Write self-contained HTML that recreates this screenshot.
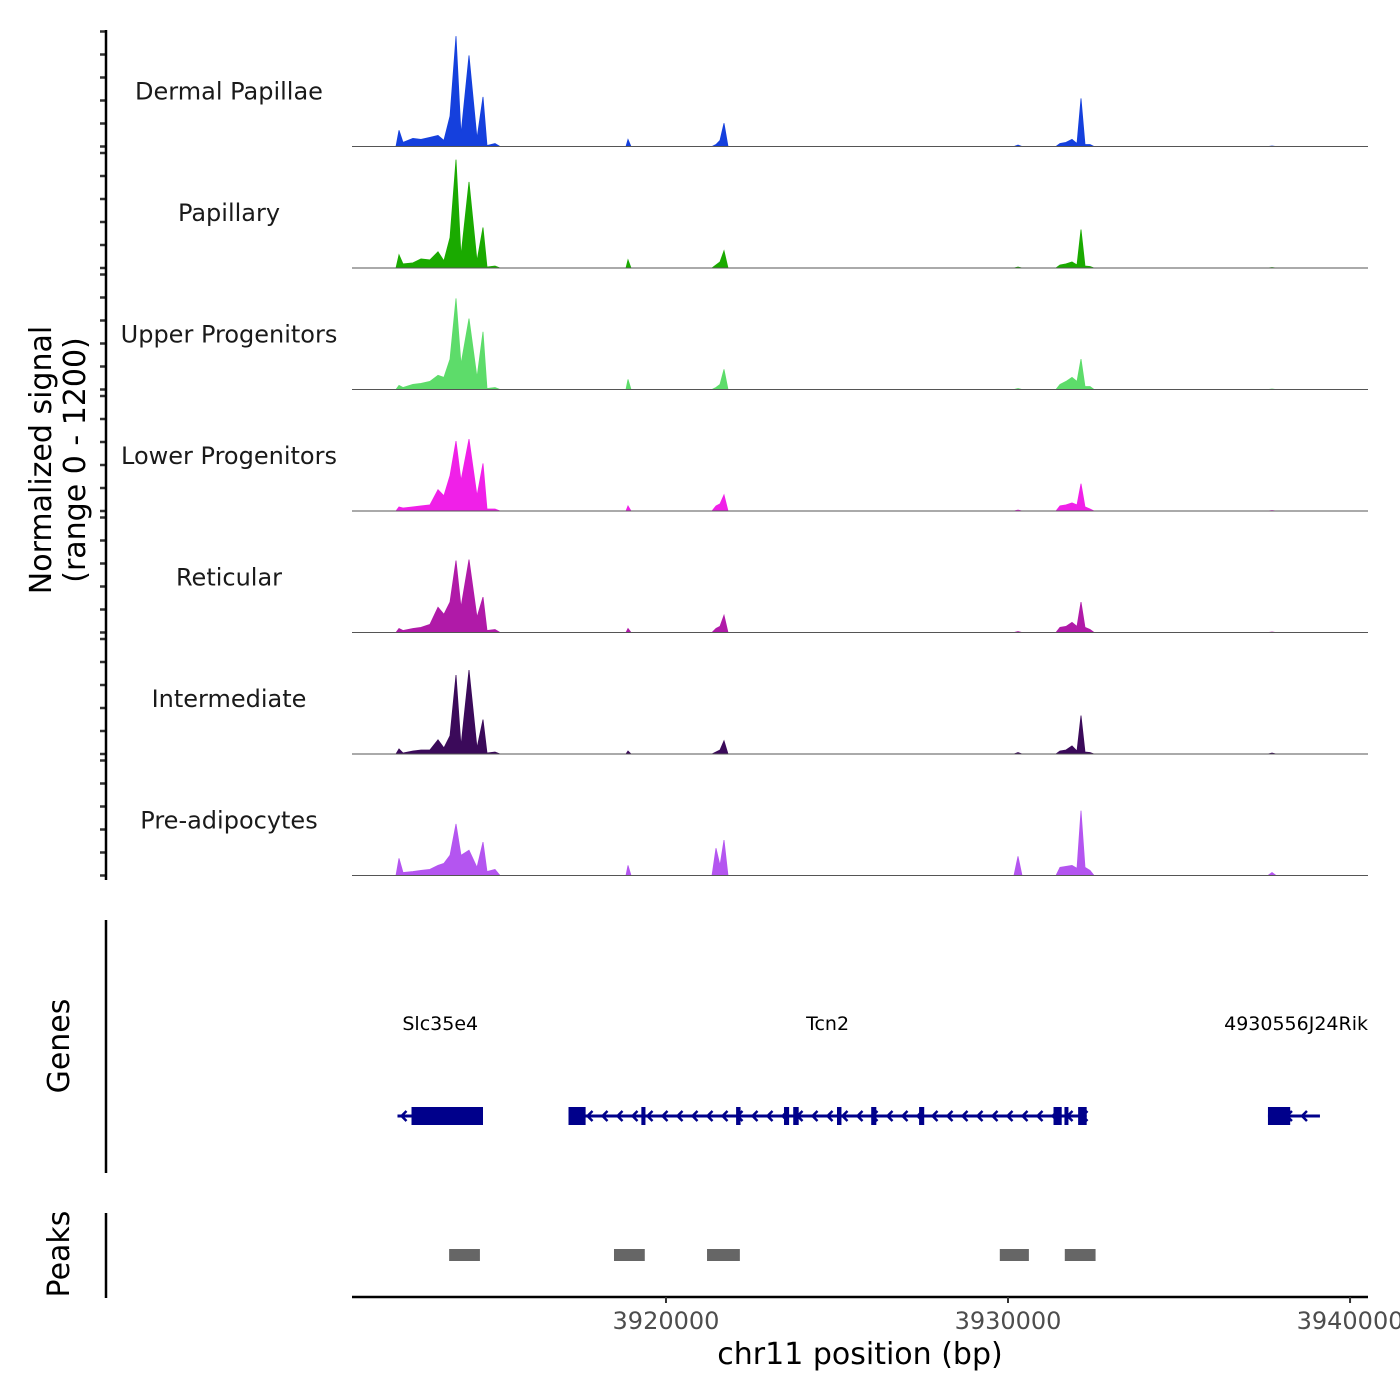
<!DOCTYPE html>
<html><head><meta charset="utf-8"><style>
body{margin:0;background:#fff}
svg{display:block;font-family:"DejaVu Sans","Liberation Sans",sans-serif}
</style></head><body>
<svg id="chart" width="1400" height="1400" viewBox="0 0 1400 1400" xmlns="http://www.w3.org/2000/svg">
<g id="tracks"></g>
<g id="genes"></g>
<g id="peaks"></g>
<g id="axes"></g>
<text transform="translate(51,460) rotate(-90)" text-anchor="middle" font-size="30">Normalized signal</text>
<text transform="translate(85,460) rotate(-90)" text-anchor="middle" font-size="30">(range 0 - 1200)</text>
<text transform="translate(69,1046) rotate(-90)" text-anchor="middle" font-size="30">Genes</text>
<text transform="translate(69,1254) rotate(-90)" text-anchor="middle" font-size="30">Peaks</text>
<text x="860" y="1364" text-anchor="middle" font-size="30">chr11 position (bp)</text>
</svg>
<script>
const trackNames=["Dermal Papillae","Papillary","Upper Progenitors","Lower Progenitors","Reticular","Intermediate","Pre-adipocytes"];
const trackColors=["#1540dd","#1aaa00","#5ddc6a","#f020e8","#b01aa8","#3b0a5a","#b455f0"];
const positions=[3912105,3912193,3912310,3912602,3912836,3913099,3913333,3913508,3913684,3913860,3914006,3914240,3914474,3914649,3914766,3915000,3915146,3918830,3918889,3918977,3921345,3921462,3921579,3921696,3921813,3930176,3930293,3930409,3931404,3931521,3931696,3931871,3932018,3932135,3932252,3932398,3932515,3937602,3937719,3937836];
const sigDP=[0,160,40,80,70,90,110,60,300,1090,120,900,80,490,10,30,0,0,70,0,0,20,60,230,0,0,15,0,0,30,40,70,30,475,20,20,0,0,5,0];
const sigPap=[0,130,40,50,90,80,160,70,300,1070,120,850,70,400,10,20,0,0,80,0,0,30,60,170,0,0,10,0,0,30,40,60,30,380,20,15,0,0,5,0];
const sigUP=[0,40,20,50,60,80,140,120,300,900,250,700,120,570,10,20,0,0,100,0,0,20,50,200,0,0,10,0,0,50,80,120,80,300,30,30,0,0,5,0];
const sigLP=[0,40,30,40,50,60,210,150,350,690,300,710,150,470,20,20,0,0,50,0,0,50,70,160,0,0,10,0,0,50,60,80,60,270,40,20,0,0,5,0];
const sigRet=[0,40,20,40,50,80,250,180,300,710,250,720,150,350,20,30,0,0,40,0,0,40,60,170,0,0,10,0,0,50,60,100,60,300,50,30,0,0,5,0];
const sigInt=[0,50,10,30,40,40,140,60,180,780,80,830,60,340,10,20,0,0,30,0,0,20,40,130,0,0,15,0,0,30,40,80,30,380,20,15,0,0,10,0];
const sigPre=[0,170,30,40,50,60,100,120,200,510,200,250,80,330,40,60,0,0,100,0,0,270,100,350,0,0,190,0,0,80,90,100,70,640,80,50,0,0,30,0];
const xTicks=[3920000,3930000,3940000];
const geneNames=["Slc35e4","Tcn2","4930556J24Rik"];
const geneStarts=[3912150,3917150,3937600];
const geneEnds=[3914650,3932300,3939120];
const exonStarts=[3912560,3917150,3919280,3922050,3923450,3923720,3925000,3926000,3927400,3931330,3931650,3932050,3937600];
const exonEnds=[3914650,3917650,3919400,3922180,3923600,3923880,3925130,3926150,3927550,3931570,3931730,3932300,3938250];
const peakStarts=[3913660,3918480,3921200,3929760,3931660];
const peakEnds=[3914560,3919380,3922160,3930610,3932560];
const sigs=[sigDP,sigPap,sigUP,sigLP,sigRet,sigInt,sigPre];
const NS="http://www.w3.org/2000/svg";
const X0=352,X1=1368,BP0=3910820,BP1=3940525;
const xs=bp=>X0+(bp-BP0)/(BP1-BP0)*(X1-X0);
const trackH=121.5, top0=25;
const ys=(i,v)=>top0+(i+1)*trackH-v/1200*trackH;
function mk(tag,attrs,parent){const e=document.createElementNS(NS,tag);for(const k in attrs)e.setAttribute(k,attrs[k]);parent.appendChild(e);return e;}
const gT=document.getElementById('tracks'),gG=document.getElementById('genes'),gP=document.getElementById('peaks'),gA=document.getElementById('axes');
sigs.forEach((s,i)=>{
  const base=ys(i,0);
  let d=`M${xs(positions[0])},${base}`;
  s.forEach((v,j)=>{d+=`L${xs(positions[j]).toFixed(1)},${ys(i,v).toFixed(1)}`;});
  d+=`L${xs(positions[positions.length-1])},${base}Z`;
  const p=mk('path',{d:d,fill:trackColors[i],stroke:trackColors[i],'stroke-width':0.8},gT);
  
  
  const l=mk('line',{x1:X0,x2:X1,y1:base,y2:base,stroke:'#555','stroke-width':1},gT);
  
  
  const t=mk('text',{x:229,y:base-47,'text-anchor':'middle','font-size':24,fill:'#1a1a1a'},gT);
  t.textContent=trackNames[i];
  
  
  for(let k=0;k<=5;k++){
    const y=base-k*23;
    const tk=mk('line',{x1:100,x2:106,y1:y,y2:y,stroke:'#333','stroke-width':2.5},gA);
    
    
  }
});
[[30,880],[920,1173],[1213,1298]].forEach(r=>{
  const l=mk('line',{x1:106,x2:106,y1:r[0],y2:r[1],stroke:'#000','stroke-width':2.5},gA);
  
  
});
const xl=mk('line',{x1:X0,x2:X1,y1:1297,y2:1297,stroke:'#000','stroke-width':2.5},gA);


xTicks.forEach(v=>{
  const tk=mk('line',{x1:xs(v),x2:xs(v),y1:1297,y2:1303,stroke:'#333','stroke-width':2},gA);
  
  
  const t=mk('text',{x:xs(v),y:1329,'text-anchor':'middle','font-size':24,fill:'#4d4d4d'},gA);
  t.textContent=v;
  
  
});
const GY=1116,C='#00008b';
geneNames.forEach((n,i)=>{
  const a=xs(geneStarts[i]),b=xs(geneEnds[i]);
  const l=mk('line',{x1:a,x2:b,y1:GY,y2:GY,stroke:C,'stroke-width':3},gG);
  
  
  for(let x=a+4;x<b-4;x+=15){
    const c=mk('polyline',{points:`${x+5},${GY-5} ${x},${GY} ${x+5},${GY+5}`,fill:'none',stroke:C,'stroke-width':2.5},gG);
    
    
  }
  const t=mk('text',{x:i==2?X1:(a+b)/2,y:1030,'text-anchor':i==2?'end':'middle','font-size':19,fill:'#000'},gG);
  t.textContent=n;
  
  
});
exonStarts.forEach((s,i)=>{
  const a=xs(s),b=xs(exonEnds[i]);
  const r=mk('rect',{x:a,y:GY-9,width:Math.max(b-a,4),height:18,fill:C},gG);
  
  
});
peakStarts.forEach((s,i)=>{
  const r=mk('rect',{x:xs(s),y:1249,width:xs(peakEnds[i])-xs(s),height:12,fill:'#666'},gP);
  
  
});
</script>
</body></html>
